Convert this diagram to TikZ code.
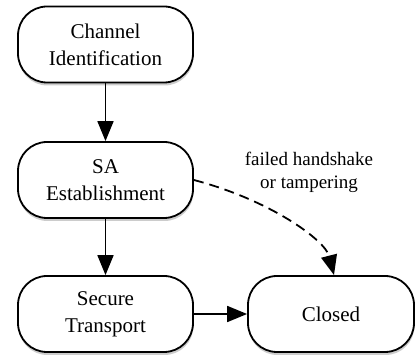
\documentclass[tikz,border=0pt]{standalone}
\usepackage{fontspec}
\setmainfont{Liberation Serif}
\usetikzlibrary{arrows.meta,shadows}
\begin{document}
\begin{tikzpicture}[x=1pt,y=-1pt,
  state/.style={draw, line width=1.8pt, rounded corners=29pt, fill=white,
    minimum width=175pt, minimum height=76pt, align=center,
    font=\fontsize{21}{27}\selectfont, inner sep=0pt,
    drop shadow={shadow xshift=0.5pt, shadow yshift=-3pt, opacity=0.2, fill=black}},
  flow/.style={line width=1.8pt, -{Triangle[length=20pt,width=16pt]}},
  fail/.style={flow, dash pattern=on 10pt off 6pt},
  lbl/.style={align=center, font=\fontsize{19}{23}\selectfont}]
\useasboundingbox (0,0) rectangle (416,358);
\node[state] (ci) at (105.5,44.5) {Channel\\Identification};
\node[state] (sa) at (105.5,180) {SA\\Establishment};
\node[state] (st) at (105.5,314) {Secure\\Transport};
\node[state, minimum width=166pt] (cl) at (331,314) {Closed};
\node[lbl] (fl) at (309,172) {failed handshake\\or tampering};
\draw[flow] (ci) -- (sa);
\draw[flow] (sa) -- (st);
\draw[flow] (st) -- (cl);
\draw[fail] (sa.east) .. controls (270,200) and (325,240) .. ([xshift=3pt]cl.north);
\end{tikzpicture}
\end{document}
